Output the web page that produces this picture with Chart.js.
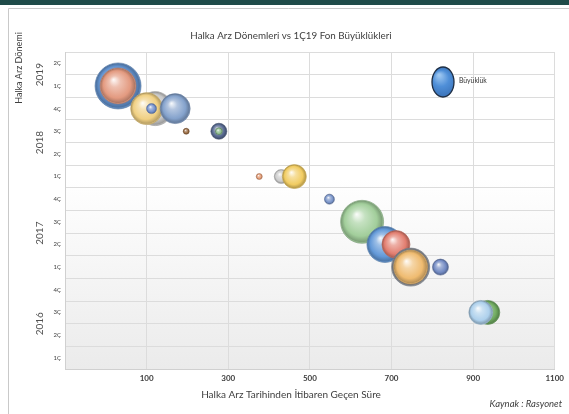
<!DOCTYPE html>
<html lang="tr">
<head>
<meta charset="utf-8">
<title>Halka Arz Dönemleri vs 1Ç19 Fon Büyüklükleri</title>
<script src="https://cdn.jsdelivr.net/npm/chart.js@4.4.1/dist/chart.umd.min.js"></script>
<style>
  html, body { margin: 0; padding: 0; background: #fff; }
  #wrap { width: 569px; height: 414px; }
</style>
</head>
<body>
<div id="wrap"><canvas id="fon-chart" width="569" height="414"></canvas></div>
<script>
// dönemler, alttan üste
const donemler = [
    '2016 1Ç', '2016 2Ç', '2016 3Ç', '2016 4Ç',
    '2017 1Ç', '2017 2Ç', '2017 3Ç', '2017 4Ç',
    '2018 1Ç', '2018 2Ç', '2018 3Ç', '2018 4Ç',
    '2019 1Ç', '2019 2Ç'
];
const yillar = ['2016', '2017', '2018', '2019'];

// her fonun halka arz dönemi, geçen süre (gün) ve baloncuk büyüklüğü
const fonDonem = [
    '2019 1Ç', '2019 1Ç',
    '2018 4Ç', '2018 4Ç', '2018 4Ç', '2018 4Ç',
    '2018 3Ç', '2018 3Ç', '2018 3Ç',
    '2018 1Ç', '2018 1Ç', '2018 1Ç',
    '2017 4Ç', '2017 3Ç', '2017 2Ç', '2017 2Ç',
    '2017 1Ç', '2017 1Ç', '2017 1Ç',
    '2016 3Ç', '2016 3Ç'
];
const gecenSure = [30, 30, 121, 100, 170, 112, 197, 277, 277, 376, 430, 462, 548, 628, 684, 711, 747, 747, 820, 936, 919];
const buyukluk = [23, 18, 17, 16, 15, 5, 3, 8, 3.5, 3, 7, 12, 5, 21.5, 18, 14, 19, 17, 8, 12, 12];

const renkler = [
    '#6494d0', '#e39a80',
    '#c8c8c8', '#f0d083', '#84a2cc', '#728fcc',
    '#9a6a40', '#56688f', '#8cbc8e',
    '#e39a72', '#cccccc', '#f1cc62',
    '#7893c8', '#a2ce9b', '#6399d8', '#e27e70',
    '#90959e', '#efbb70', '#7189c2',
    '#70ab60', '#add0ec'
];

const FONT = "Lato, 'Noto Sans', sans-serif";

function hexRgb(hex) {
    const n = parseInt(hex.slice(1), 16);
    return [(n >> 16) & 255, (n >> 8) & 255, n & 255];
}

function mix(hex, to, t) {
    const c = hexRgb(hex);
    const r = c.map((v, i) => Math.round(v + (to[i] - v) * t));
    return `rgb(${r[0]},${r[1]},${r[2]})`;
}

const WHITE = [255, 255, 255];
const BLACK = [0, 0, 0];

// parlak küre görünümü için radyal dolgu
function kure(ctx) {
    const base = renkler[ctx.dataIndex];
    if (ctx.type !== 'data') return base;
    const { chart, raw } = ctx;
    const xs = chart.scales.x, ys = chart.scales.y;
    if (!xs || !ys || !raw) return base;
    const cx = xs.getPixelForValue(raw.x);
    const cy = ys.getPixelForValue(raw.y);
    const r = raw.r;
    // yerleşim bitmeden piksel değerleri henüz hazır değil
    if (!isFinite(cx) || !isFinite(cy) || !isFinite(r)) return base;
    const g = chart.ctx.createRadialGradient(cx - r * 0.25, cy - r * 0.35, r * 0.02, cx, cy, r);
    g.addColorStop(0, mix(base, WHITE, 0.92));
    g.addColorStop(0.3, mix(base, WHITE, 0.38));
    g.addColorStop(0.75, base);
    g.addColorStop(0.94, mix(base, BLACK, 0.22));
    g.addColorStop(1, mix(base, WHITE, 0.1));
    return g;
}

const yazilar = {
    id: 'yazilar',
    beforeDraw(chart) {
        const { ctx, chartArea: a } = chart;
        ctx.save();
        ctx.fillStyle = '#1f4b49';
        ctx.fillRect(0, 0, chart.width, 5);
        ctx.strokeStyle = '#c9c9c9';
        ctx.lineWidth = 1;
        ctx.beginPath();
        ctx.moveTo(8.5, chart.height);
        ctx.lineTo(8.5, 8.5);
        ctx.lineTo(chart.width, 8.5);
        ctx.stroke();

        const g = ctx.createLinearGradient(0, a.top, 0, a.bottom);
        g.addColorStop(0, '#ffffff');
        g.addColorStop(0.4, '#ffffff');
        g.addColorStop(1, '#ebebeb');
        ctx.fillStyle = g;
        ctx.fillRect(a.left, a.top, a.right - a.left, a.bottom - a.top);
        ctx.restore();
    },
    afterDraw(chart) {
        const { ctx } = chart;
        const ys = chart.scales.y;
        ctx.save();
        ctx.fillStyle = '#404040';
        ctx.textBaseline = 'middle';

        ctx.textAlign = 'center';
        ctx.font = `9.8px ${FONT}`;
        ctx.fillText('Halka Arz Dönemleri vs 1Ç19 Fon Büyüklükleri', 291, 36);
        ctx.font = `10px ${FONT}`;
        ctx.fillText('Halka Arz Tarihinden İtibaren Geçen Süre', 291, 395);

        ctx.textAlign = 'right';
        ctx.font = `italic 9.5px ${FONT}`;
        ctx.fillText('Kaynak : Rasyonet', 562, 404);

        // dikey yazılar: eksen başlığı ve yıllar
        ctx.save();
        ctx.translate(19, 68);
        ctx.rotate(-Math.PI / 2);
        ctx.textAlign = 'center';
        ctx.font = `9px ${FONT}`;
        ctx.fillText('Halka Arz Dönemi', 0, 0);
        ctx.restore();

        ctx.font = `10px ${FONT}`;
        ctx.fillStyle = '#505050';
        yillar.forEach(yil => {
            const idx = donemler.map((d, i) => d.startsWith(yil) ? i : -1).filter(i => i >= 0);
            const orta = (idx[0] + idx[idx.length - 1] + 1) / 2;
            ctx.save();
            ctx.translate(40, ys.getPixelForValue(orta));
            ctx.rotate(-Math.PI / 2);
            ctx.textAlign = 'center';
            ctx.fillText(yil, 0, 0);
            ctx.restore();
        });

        // açıklama
        const lx = 443, ly = 82;
        const g = ctx.createRadialGradient(lx - 4, ly - 7, 1, lx, ly, 15);
        g.addColorStop(0, '#9cc6f0');
        g.addColorStop(0.5, '#4f8fd8');
        g.addColorStop(1, '#3a72b8');
        ctx.beginPath();
        ctx.ellipse(lx, ly, 11, 15, 0, 0, Math.PI * 2);
        ctx.fillStyle = g;
        ctx.fill();
        ctx.lineWidth = 1.3;
        ctx.strokeStyle = '#1e2e44';
        ctx.stroke();
        ctx.fillStyle = '#333';
        ctx.textAlign = 'left';
        ctx.font = `6.8px ${FONT}`;
        ctx.fillText('Büyüklük', 459, 81);
        ctx.restore();
    }
};

const canvas = document.querySelector('#fon-chart');

new Chart(canvas.getContext('2d'), {
    type: 'bubble',
    data: {
        datasets: [{
            label: 'Büyüklük',
            data: fonDonem.map((d, i) => ({
                x: gecenSure[i],
                y: donemler.indexOf(d) + 0.5,
                r: buyukluk[i]
            })),
            backgroundColor: kure,
            borderColor: renkler.map(c => mix(c, BLACK, 0.3)),
            borderWidth: 0.6
        }]
    },
    options: {
        responsive: false,
        animation: false,
        events: [],
        layout: {
            autoPadding: false,
            padding: { left: 0, top: 52, right: 11, bottom: 0 }
        },
        plugins: {
            legend: { display: false },
            tooltip: { enabled: false }
        },
        scales: {
            x: {
                type: 'linear',
                min: -100,
                max: 1100,
                afterFit(scale) { scale.height = 45; },
                ticks: {
                    stepSize: 200,
                    padding: 5,
                    color: '#404040',
                    font: { family: FONT, size: 8, weight: 'bold' },
                    callback: v => v < 0 ? '' : v
                },
                grid: { color: '#dcdcdc', drawTicks: false },
                border: { color: '#d0d0d0' }
            },
            y: {
                type: 'linear',
                min: 0,
                max: donemler.length,
                afterFit(scale) { scale.width = 65; },
                ticks: {
                    stepSize: 1,
                    padding: 4,
                    labelOffset: -11.3,
                    color: '#404040',
                    font: { family: FONT, size: 6 },
                    callback: v => donemler[v] ? donemler[v].split(' ')[1] : ''
                },
                grid: { color: '#dcdcdc', drawTicks: false },
                border: { color: '#d0d0d0' }
            }
        }
    },
    plugins: [yazilar]
});
</script>
</body>
</html>
